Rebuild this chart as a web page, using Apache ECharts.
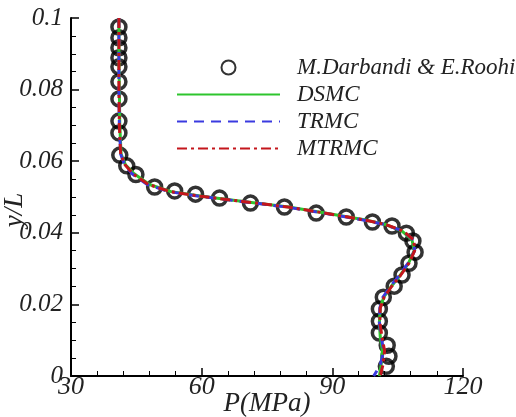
<!DOCTYPE html>
<html>
<head>
<meta charset="utf-8">
<script src="https://cdn.jsdelivr.net/npm/echarts@6/dist/echarts.min.js"></script>
<style>
html, body { margin: 0; padding: 0; background: #fff; }
#chart { width: 516px; height: 417px; }
</style>
</head>
<body>
<div id="chart"></div>
<script>
// pressure (MPa) vs y/L
var refP = [41.0, 41.0, 41.0, 41.0, 41.0, 41.0, 41.0, 41.0, 41.0, 41.2, 42.8, 44.9, 49.2, 53.8, 58.6, 64.1, 71.2, 79.0, 86.3, 93.2, 99.2, 103.7, 107.0, 108.5, 109.0, 107.6, 106.0, 104.2, 101.7, 100.8, 100.8, 100.8, 102.6, 103.0, 102.4]
var refY = [0.0975, 0.0945, 0.0917, 0.0889, 0.0864, 0.0822, 0.0774, 0.0712, 0.0679, 0.0617, 0.0587, 0.0563, 0.0528, 0.0517, 0.0508, 0.0497, 0.0483, 0.0472, 0.0455, 0.0444, 0.0430, 0.0419, 0.0399, 0.0377, 0.0346, 0.0315, 0.0282, 0.0251, 0.0220, 0.0187, 0.0153, 0.0120, 0.0086, 0.0055, 0.0027]

var lineY = [0.100, 0.090, 0.080, 0.070, 0.062, 0.059, 0.0565, 0.0535, 0.0515, 0.0502, 0.0487, 0.0472, 0.0452, 0.0437, 0.0424, 0.0405, 0.0380, 0.0350, 0.0315, 0.0280, 0.0250, 0.0220, 0.0190, 0.0150, 0.0110, 0.0070, 0.0030, 0.0]
var dsmcP = [41.0, 41.0, 41.1, 41.2, 41.5, 42.5, 44.5, 48.0, 53.0, 60.0, 70.0, 80.0, 90.0, 97.0, 102.0, 106.0, 108.3, 108.8, 107.5, 105.5, 103.5, 101.8, 101.0, 100.8, 101.0, 101.5, 101.2, 100.8]
var trmcP = [41.0, 41.0, 41.0, 41.1, 41.4, 42.3, 44.0, 47.5, 52.5, 59.5, 69.5, 79.5, 89.5, 96.5, 101.8, 106.2, 108.6, 108.9, 107.4, 105.3, 103.3, 101.6, 100.9, 100.8, 101.2, 101.8, 101.0, 99.5]
var mtrmcP = [41.0, 41.0, 41.0, 41.1, 41.4, 42.4, 44.2, 47.8, 52.8, 59.8, 69.8, 79.8, 89.8, 96.8, 102.0, 106.3, 108.7, 108.9, 107.6, 105.6, 103.6, 101.9, 101.0, 100.9, 101.4, 102.0, 101.6, 101.0]

var xTicks = { min: 30, max: 120, step: 30 }
var yTicks = { min: 0, max: 0.1, step: 0.02 }

function pairs(xs, ys) {
    var out = []
    for (var i = 0; i < xs.length; i++) out.push([xs[i], ys[i]])
    return out
}

var font = 'Liberation Serif'
var chart = echarts.init(document.getElementById('chart'))
var noDot = { color: 'rgba(0,0,0,0)', borderWidth: 0, opacity: 0 }
var nameFont = 'italic 27px "Liberation Serif"'

var option = {
    animation: false,
    grid: { left: 71, right: 53, top: 18, bottom: 41, outerBoundsMode: 'none', containLabel: false },
    // axis titles as plain text, placed like the original figure
    graphic: [
        {
            type: 'text',
            x: 267,
            y: 404,
            style: { text: 'P(MPa)', font: nameFont, fill: '#222', align: 'center', verticalAlign: 'middle' }
        },
        {
            type: 'text',
            x: 15,
            y: 210,
            rotation: Math.PI / 2,
            style: { text: 'y/L', font: nameFont, fill: '#222', align: 'center', verticalAlign: 'middle' }
        }
    ],
    legend: {
        orient: 'vertical',
        left: 171,
        top: 51,
        itemWidth: 103,
        itemHeight: 14,
        itemGap: 4,
        textStyle: {
            fontFamily: font,
            fontStyle: 'italic',
            fontSize: 23,
            lineHeight: 22,
            color: '#222',
            padding: [0, 0, 0, 12]
        },
        data: [
            { name: 'M.Darbandi & E.Roohi' },
            { name: 'DSMC', itemStyle: noDot },
            { name: 'TRMC', itemStyle: noDot },
            { name: 'MTRMC', itemStyle: noDot }
        ]
    },
    xAxis: {
        type: 'value',
        min: xTicks.min,
        max: xTicks.max,
        interval: xTicks.step,
        axisLine: { lineStyle: { color: '#000', width: 2 } },
        axisTick: { inside: true, length: 8, lineStyle: { color: '#000', width: 1.5 } },
        minorTick: { show: true, splitNumber: 5, length: 5, lineStyle: { color: '#000', width: 1 } },
        splitLine: { show: false },
        axisLabel: { fontFamily: font, fontStyle: 'italic', fontSize: 26, color: '#222', margin: -2 }
    },
    yAxis: {
        type: 'value',
        min: yTicks.min,
        max: yTicks.max,
        interval: yTicks.step,
        axisLine: { show: true, lineStyle: { color: '#000', width: 2 } },
        axisTick: { inside: true, length: 8, lineStyle: { color: '#000', width: 1.5 } },
        minorTick: { show: true, splitNumber: 4, length: 5, lineStyle: { color: '#000', width: 1 } },
        splitLine: { show: false },
        axisLabel: {
            fontFamily: font, fontStyle: 'italic', fontSize: 25, color: '#222', margin: 8,
            formatter: function (v) { return v === 0 ? '0' : String(+v.toFixed(2)) }
        }
    },
    series: [
        {
            name: 'M.Darbandi & E.Roohi',
            type: 'scatter',
            z: 1,
            symbol: 'circle',
            symbolSize: 14,
            itemStyle: { color: 'rgba(255,255,255,0)', borderColor: '#000', borderWidth: 3.5 },
            data: pairs(refP, refY)
        },
        {
            name: 'DSMC',
            type: 'line',
            z: 3,
            symbol: 'none',
            lineStyle: { color: '#2ec52e', width: 3 },
            itemStyle: { color: '#2ec52e' },
            data: pairs(dsmcP, lineY)
        },
        {
            name: 'TRMC',
            type: 'line',
            z: 4,
            symbol: 'none',
            lineStyle: { color: '#3a3ae0', width: 3, type: [10, 7] },
            itemStyle: { color: '#3a3ae0' },
            data: pairs(trmcP, lineY)
        },
        {
            name: 'MTRMC',
            type: 'line',
            z: 5,
            symbol: 'none',
            lineStyle: { color: '#c4161c', width: 3, type: [10, 4, 3, 4] },
            itemStyle: { color: '#c4161c' },
            data: pairs(mtrmcP, lineY)
        }
    ]
}

chart.setOption(option)
</script>
</body>
</html>
